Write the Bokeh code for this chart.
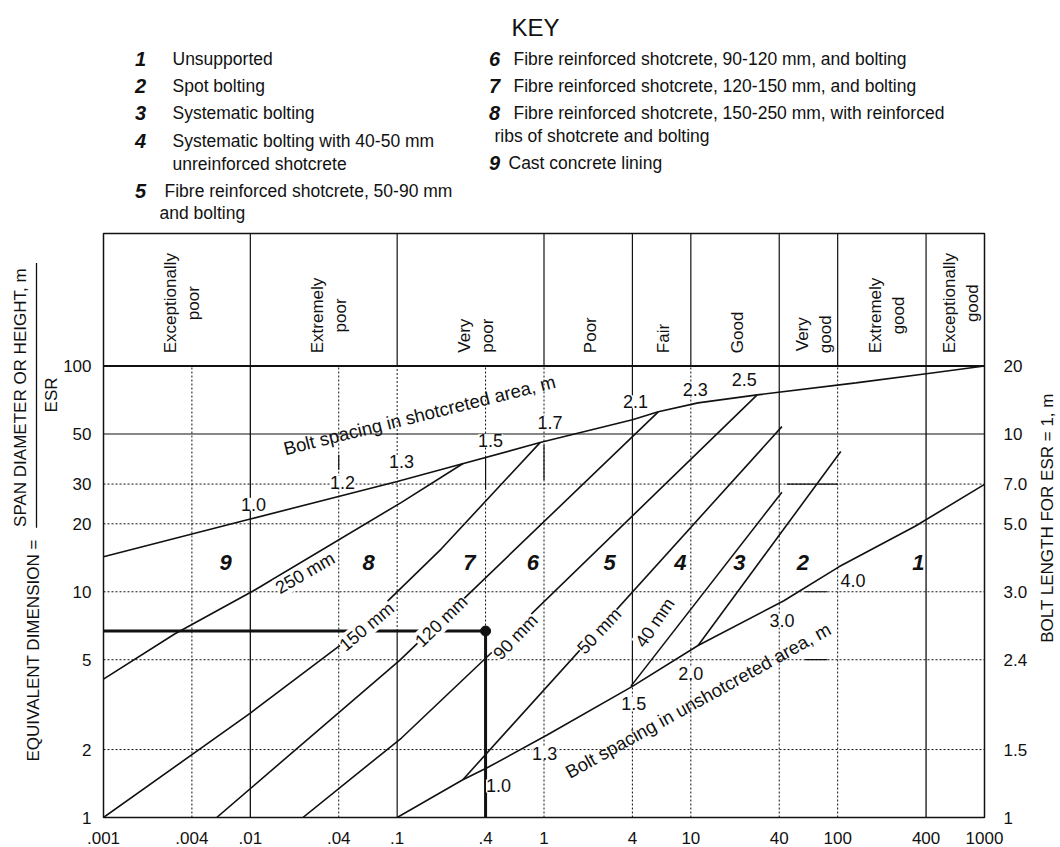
import math
from bokeh.plotting import figure
from bokeh.models import Range1d, FixedTicker, LogAxis, Label
from bokeh.layouts import column, row
from bokeh.embed import file_html
from bokeh.resources import INLINE
from bokeh.core.properties import value

FONT = "Liberation Sans"
INK = "#111111"

# ---------------- data ----------------
q_ticks = [0.001, 0.004, 0.01, 0.04, 0.1, 0.4, 1, 4, 10, 40, 100, 400, 1000]
q_tick_labels = [".001", ".004", ".01", ".04", ".1", ".4", "1", "4", "10", "40", "100", "400", "1000"]
de_ticks = [1, 2, 5, 10, 20, 30, 50, 100]
de_tick_labels = ["1", "2", "5", "10", "20", "30", "50", "100"]
bolt_length_labels = ["1", "1.5", "2.4", "3.0", "5.0", "7.0", "10", "20"]

class_bounds = [0.001, 0.01, 0.1, 1, 4, 10, 40, 100, 400, 1000]
class_names = [["Exceptionally", "poor"], ["Extremely", "poor"], ["Very", "poor"], ["Poor"], ["Fair"],
               ["Good"], ["Very", "good"], ["Extremely", "good"], ["Exceptionally", "good"]]

# bolt spacing curves (Q, equivalent dimension)
upper_q = [0.001, 0.01, 0.1, 0.2, 0.94, 4.0, 6.0, 11.2, 28.3, 133, 439, 1000]
upper_de = [14.3, 21.0, 30.8, 34.8, 45.8, 57.8, 62.7, 68.7, 74.5, 84.2, 93.2, 100]
upper_spacing = ["1.0", "1.2", "1.3", "1.5", "1.7", "2.1", "2.3", "2.5"]
lower_q = [0.1, 0.28, 0.41, 1.05, 4.0, 11.2, 43, 102, 337, 1000]
lower_de = [1.0, 1.47, 1.66, 2.32, 3.81, 5.78, 9.13, 12.9, 19.5, 29.9]
lower_spacing = ["1.0", "1.3", "1.5", "2.0", "3.0", "4.0"]

# support class boundaries
shot_250_q = [0.001, 0.00305, 0.0105, 0.107, 0.281]
shot_250_de = [4.1, 6.5, 10.1, 24.9, 37.0]
shot_150_q = [0.001, 0.01, 0.047, 0.2, 0.94]
shot_150_de = [1.0, 2.9, 6.2, 15.5, 45.8]
shot_120_q = [0.0059, 0.104, 6.0]
shot_120_de = [1.0, 4.97, 62.7]
shot_90_q = [0.0228, 0.107, 0.433, 28.3]
shot_90_de = [1.0, 2.25, 5.33, 74.5]
shot_50_q = [0.28, 41.7]
shot_50_de = [1.47, 53.9]
shot_40_q = [3.9, 41.7]
shot_40_de = [3.81, 27.6]
spot_q = [11.2, 105]
spot_de = [5.78, 41.8]

zone_numbers = ["9", "8", "7", "6", "5", "4", "3", "2", "1"]
example_q = 0.4
example_de = 6.7

key_left_numbers = ["1", "2", "3", "4", "5"]
key_left_texts = ["Unsupported", "Spot bolting", "Systematic bolting",
                  "Systematic bolting with 40-50 mm", "Fibre reinforced shotcrete, 50-90 mm"]
key_left_cont = ["unreinforced shotcrete", "and bolting"]
key_right_numbers = ["6", "7", "8", "9"]
key_right_texts = ["Fibre reinforced shotcrete, 90-120 mm, and bolting",
                   "Fibre reinforced shotcrete, 120-150 mm, and bolting",
                   "Fibre reinforced shotcrete, 150-250 mm, with reinforced",
                   "Cast concrete lining"]
key_right_cont = ["ribs of shotcrete and bolting"]

# ---------------- helpers ----------------
AW = {'a': .556, 'b': .556, 'c': .5, 'd': .556, 'e': .556, 'f': .278, 'g': .556, 'h': .556, 'i': .222,
      'j': .222, 'k': .5, 'l': .222, 'm': .833, 'n': .556, 'o': .556, 'p': .556, 'q': .556, 'r': .333,
      's': .5, 't': .278, 'u': .556, 'v': .5, 'w': .722, 'x': .5, 'y': .5, 'z': .5, 'E': .667,
      'P': .667, 'V': .667, 'F': .611, 'G': .778, ' ': .278}


def tw(s, px):
    return sum(AW.get(c, .6) for c in s) * px


def blank(fig):
    fig.grid.visible = False
    fig.outline_line_color = None
    fig.background_fill_color = "white"
    fig.border_fill_color = "white"


W_TOTAL = 1059
H_TOTAL = 846
KEY_H = 231
FRAME_TOP = 233          # page px of header top
FRAME_BOT = 819          # page px of equivalent dimension = 1
PX_DEC = 226.5           # px per decade on the vertical axis


def de_at(ypx):
    """equivalent-dimension value sitting at a given page pixel row"""
    return 10 ** ((FRAME_BOT - ypx) / PX_DEC)


# ---------------- key figure ----------------
key = figure(width=W_TOTAL, height=KEY_H, x_range=Range1d(0, W_TOTAL), y_range=Range1d(KEY_H, 0),
             output_backend="svg", toolbar_location=None, min_border=0,
             x_axis_location=None, y_axis_location=None)
blank(key)
key.text(x=[535], y=[27], text=["KEY"], text_font=value(FONT), text_font_size="24px",
         text_align="center", text_baseline="middle", text_color=INK)
num_style = dict(text_font=value(FONT), text_font_size="20px", text_font_style="bold italic",
                 text_align="center", text_baseline="middle", text_color=INK)
txt_style = dict(text_font=value(FONT), text_font_size="17.5px", text_align="left",
                 text_baseline="middle", text_color=INK)
left_rows = [58, 85, 112, 140, 190]
key.text(x=[140] * 5, y=left_rows, text=key_left_numbers, **num_style)
key.text(x=[172, 172, 172, 172, 164], y=left_rows, text=key_left_texts, **txt_style)
key.text(x=[172, 159], y=[163, 212], text=key_left_cont, **txt_style)
right_rows = [58, 85, 112, 162]
key.text(x=[494] * 4, y=right_rows, text=key_right_numbers, **num_style)
key.text(x=[513, 513, 513, 508], y=right_rows, text=key_right_texts, **txt_style)
key.text(x=[494], y=[135], text=key_right_cont, **txt_style)

# ---------------- left title figure ----------------
LW = 60
left = figure(width=LW, height=H_TOTAL - KEY_H, x_range=Range1d(0, LW), y_range=Range1d(H_TOTAL, KEY_H),
              output_backend="svg", toolbar_location=None, min_border=0,
              x_axis_location=None, y_axis_location=None)
blank(left)
ttl = dict(text_font=value(FONT), text_font_size="17px", text_baseline="middle",
           text_color=INK, angle=math.pi / 2)
left.text(x=[33], y=[787], text=["EQUIVALENT DIMENSION ="], text_align="left", **ttl)
left.text(x=[20], y=[540], text=["SPAN DIAMETER OR HEIGHT, m"], text_align="left", **ttl)
left.segment(x0=[36], y0=[262], x1=[36], y1=[541], line_color=INK, line_width=1.3)
left.text(x=[51], y=[401], text=["ESR"], text_align="center", **ttl)

# ---------------- right title figure ----------------
RX0 = 1030
right = figure(width=W_TOTAL - RX0, height=H_TOTAL - KEY_H, x_range=Range1d(RX0, W_TOTAL),
               y_range=Range1d(H_TOTAL, KEY_H), output_backend="svg", toolbar_location=None,
               min_border=0, x_axis_location=None, y_axis_location=None)
blank(right)
right.text(x=[1047], y=[662], text=["BOLT LENGTH FOR ESR = 1, m"], text_align="left", **ttl)

MW = RX0 - LW  # 970

# ---------------- main chart (with quality-class header on top) ----------------
y_top = de_at(FRAME_TOP)
p = figure(width=MW, height=H_TOTAL - KEY_H, x_axis_type="log", y_axis_type="log",
           x_range=Range1d(0.001, 1000), y_range=Range1d(1, y_top),
           output_backend="svg", toolbar_location=None,
           min_border_left=38, min_border_right=40, min_border_top=FRAME_TOP - KEY_H,
           min_border_bottom=H_TOTAL - FRAME_BOT)
p.grid.visible = False
p.outline_line_color = INK
p.outline_line_width = 1.5


def style_axis(ax, standoff):
    ax.axis_line_color = None
    ax.major_tick_line_color = None
    ax.minor_tick_line_color = None
    ax.major_label_text_font = FONT
    ax.major_label_text_font_size = "17px"
    ax.major_label_text_color = INK
    ax.major_label_standoff = standoff


p.xaxis.ticker = FixedTicker(ticks=q_ticks)
p.xaxis.major_label_overrides = dict(zip(q_ticks, q_tick_labels))
style_axis(p.xaxis[0], 8)
p.yaxis.ticker = FixedTicker(ticks=de_ticks)
p.yaxis.major_label_overrides = dict(zip(de_ticks, de_tick_labels))
style_axis(p.yaxis[0], 6)
rax = LogAxis(ticker=FixedTicker(ticks=de_ticks),
              major_label_overrides=dict(zip(de_ticks, bolt_length_labels)))
style_axis(rax, 13)
p.add_layout(rax, "right")

# header band
nb = len(class_bounds) - 2
p.segment(x0=class_bounds[1:-1], y0=[100] * nb, x1=class_bounds[1:-1], y1=[y_top] * nb,
          line_color=INK, line_width=1.2)
p.line([0.001, 1000], [100, 100], line_color=INK, line_width=2)
for i, lines in enumerate(class_names):
    qc = math.sqrt(class_bounds[i] * class_bounds[i + 1])
    wmax = max(tw(s, 17) for s in lines)
    yc = de_at(353 - wmax / 2)
    offs = [-6, 17] if len(lines) == 2 else [2]
    for s, xo in zip(lines, offs):
        p.text(x=[qc], y=[yc], text=[s], x_offset=xo, angle=math.pi / 2,
               text_font=value(FONT), text_font_size="17px", text_align="center",
               text_baseline="middle", text_color=INK)

DOT = "2 2"
# horizontal grid
for d in [2, 5, 10, 20, 30]:
    p.line([0.001, 1000], [d, d], line_color=INK, line_width=1, line_dash=DOT)
p.line([0.001, 1000], [50, 50], line_color=INK, line_width=1.1)
# vertical grid
for q in [0.004, 0.04, 0.4, 1, 10, 100]:
    p.line([q, q], [1, 100], line_color=INK, line_width=1, line_dash=DOT)
p.line([0.01, 0.01], [1, 100], line_color=INK, line_width=1.3)
p.line([400, 400], [1, 100], line_color=INK, line_width=1.3)
p.line([0.1, 0.1], [6.7, 100], line_color=INK, line_width=1, line_dash=DOT)
p.line([0.1, 0.1], [1, 6.7], line_color=INK, line_width=1.2)
p.line([4, 4], [1, 3.8], line_color=INK, line_width=1, line_dash=DOT)
p.line([4, 4], [3.8, 100], line_color=INK, line_width=1.2)
p.line([40, 40], [1, 27.6], line_color=INK, line_width=1, line_dash=DOT)
p.line([40, 40], [27.6, 100], line_color=INK, line_width=1.2)
# short solid marker bits on the grid
p.segment(x0=[0.04, 0.4, 1], y0=[34.7, 28.3, 31.3], x1=[0.04, 0.4, 1], y1=[40.5, 39.7, 44.8],
          line_color=INK, line_width=1.2)
p.segment(x0=[45, 60, 60], y0=[30, 10, 5], x1=[100, 85, 85], y1=[30, 10, 5],
          line_color=INK, line_width=1.2)

# example path
p.line([0.001, example_q, example_q], [example_de, example_de, 1], line_color=INK, line_width=3)
p.scatter([example_q], [example_de], size=10, color=INK)

# curves
for qs, ds in [(upper_q, upper_de), (lower_q, lower_de), (shot_250_q, shot_250_de),
               (shot_150_q, shot_150_de), (shot_120_q, shot_120_de), (shot_90_q, shot_90_de),
               (shot_50_q, shot_50_de), (shot_40_q, shot_40_de), (spot_q, spot_de)]:
    p.line(qs, ds, line_color=INK, line_width=1.6)

# zone numbers
zone_q = [0.0068, 0.064, 0.31, 0.84, 2.8, 8.5, 21.4, 58, 355]
p.text(x=zone_q, y=[13.5] * 9, text=zone_numbers, text_font=value(FONT), text_font_size="22px",
       text_font_style="bold italic", text_align="center", text_baseline="middle", text_color=INK)


def lab(q, d, s, ang=0, size="18px", bg=True):
    p.add_layout(Label(x=q, y=d, text=s, angle=ang, angle_units="deg", text_font=FONT,
                       text_font_size=size, text_color=INK, text_align="center",
                       text_baseline="middle",
                       background_fill_color="white" if bg else None))


# spacing values
for s, (q, d) in zip(upper_spacing, [(0.0105, 24.4), (0.0424, 30.5), (0.107, 37.8), (0.433, 46.7),
                                     (1.10, 56.1), (4.2, 69.4), (10.7, 78.4), (23.1, 86.8)]):
    lab(q, d, s)
for s, (q, d) in zip(lower_spacing, [(0.49, 1.38), (1.01, 1.93), (4.09, 3.21), (10.0, 4.35),
                                     (41.7, 7.45), (127, 11.2)]):
    lab(q, d, s)

# thickness labels
for s, q, d, a in [("250 mm", 0.0236, 12.1, 30), ("150 mm", 0.062, 7.0, 40), ("120 mm", 0.20, 7.4, 44),
                   ("90 mm", 0.64, 6.3, 46), ("50 mm", 2.38, 6.7, 47), ("40 mm", 5.7, 7.3, 56)]:
    lab(q, d, s, a)

lab(0.142, 60.6, "Bolt spacing in shotcreted area, m", 14, size="18.5px", bg=False)
lab(11.2, 3.3, "Bolt spacing in unshotcreted area, m", 29, size="18.5px", bg=False)

layout = column(key, row(left, p, right))
open("out.html", "w").write(file_html(layout, INLINE))
